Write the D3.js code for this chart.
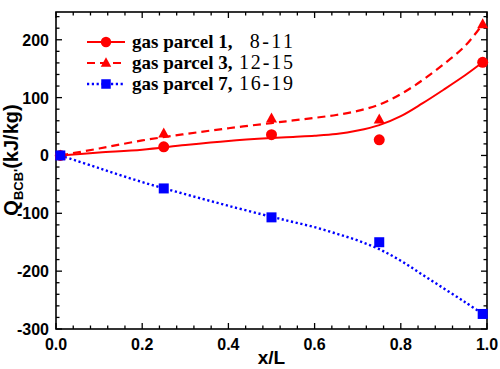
<!DOCTYPE html>
<html><head><meta charset="utf-8">
<script src="https://cdn.jsdelivr.net/npm/d3@7"></script>
<style>body{margin:0;background:#fff;} svg{display:block;}</style>
</head><body>
<svg id="c" width="500" height="369"></svg>
<script>
// ---- data ----
const xPoints = [0.01, 0.25, 0.5, 0.75, 0.99];
const parcel1 = [0, 15, 36, 27, 161];
const parcel3 = [0, 38, 64, 62, 227];
const parcel7 = [0, -57, -107, -150, -274];

const fitX  = [0.01, 0.1, 0.2, 0.3, 0.4, 0.5, 0.55, 0.6, 0.65, 0.7, 0.75, 0.8, 0.85, 0.9, 0.95, 0.99];
const fit1  = [0, 5, 10, 18, 25, 30, 32, 34, 37, 43, 52.5, 68, 90, 114, 139, 161];
const fit3  = [0, 12, 26, 37, 47, 56, 60.5, 65, 70, 77, 88, 106, 130, 158, 190, 227];
const fit7  = [0, -22, -46, -67, -87, -106, -115, -124, -135, -147, -162, -182, -206, -230, -254, -274];

const xTicks = [0.0, 0.2, 0.4, 0.6, 0.8, 1.0];
const yTicks = [-300, -200, -100, 0, 100, 200];
const legendNames = ["gas parcel 1,", "gas parcel 3,", "gas parcel 7,"];
const legendRanges = ["8-11", "12-15", "16-19"];

// ---- layout ----
const svg = d3.select("#c");
const L = 56, R = 487, T = 12, B = 329;
const x = d3.scaleLinear().domain([0, 1]).range([L, R]);
const y = d3.scaleLinear().domain([-300, 248]).range([B, T]);

const sans = "'Liberation Sans', Arial, sans-serif";
const serif = "'Liberation Serif', 'Times New Roman', serif";

// ticks (inward on all sides)
const minorX = d3.range(0, 1.0001, 0.04);
const minorY = d3.range(-300, 241, 20);
const tg = svg.append("g").attr("stroke", "#000").attr("stroke-width", 1.3);
minorX.forEach(v => {
  const major = xTicks.some(t => Math.abs(t - v) < 1e-6);
  const len = major ? 6 : 3.5;
  tg.append("line").attr("x1", x(v)).attr("x2", x(v)).attr("y1", B).attr("y2", B - len);
  tg.append("line").attr("x1", x(v)).attr("x2", x(v)).attr("y1", T).attr("y2", T + len);
});
minorY.forEach(v => {
  const major = yTicks.includes(Math.round(v));
  const len = major ? 6 : 3.5;
  tg.append("line").attr("y1", y(v)).attr("y2", y(v)).attr("x1", L).attr("x2", L + len);
  tg.append("line").attr("y1", y(v)).attr("y2", y(v)).attr("x1", R).attr("x2", R - len);
});

// frame
svg.append("rect").attr("x", L).attr("y", T).attr("width", R - L).attr("height", B - T)
  .attr("fill", "none").attr("stroke", "#000").attr("stroke-width", 1.6);

// tick labels
svg.append("g").selectAll("text").data(xTicks).join("text")
  .attr("x", d => x(d)).attr("y", 350).attr("text-anchor", "middle")
  .attr("font-family", sans).attr("font-weight", "bold").attr("font-size", 16)
  .text(d => d.toFixed(1));
svg.append("g").selectAll("text").data(yTicks).join("text")
  .attr("x", 49).attr("y", d => y(d) + 6).attr("text-anchor", "end")
  .attr("font-family", sans).attr("font-weight", "bold").attr("font-size", 16)
  .text(d => d);

// axis titles
svg.append("text").attr("x", (L + R) / 2).attr("y", 364).attr("text-anchor", "middle")
  .attr("font-family", sans).attr("font-weight", "bold").attr("font-size", 19).text("x/L");
const yl = svg.append("text").attr("transform", "translate(18,160) rotate(-90)")
  .attr("text-anchor", "middle").attr("font-family", sans).attr("font-weight", "bold").attr("font-size", 20);
yl.append("tspan").text("Q");
yl.append("tspan").attr("font-size", 13).attr("dy", 5).text("BCB'");
yl.append("tspan").attr("dy", -5).text("(kJ/kg)");

// curves
const line = d3.line().x(d => x(d[0])).y(d => y(d[1])).curve(d3.curveCatmullRom.alpha(0.5));
const series = [
  {fit: fit1, pts: parcel1, color: "#ff0000", dash: null, w: 2, marker: "circle"},
  {fit: fit3, pts: parcel3, color: "#ff0000", dash: "8,5", w: 2.2, marker: "triangle"},
  {fit: fit7, pts: parcel7, color: "#0000ff", dash: "2.2,2.6", w: 2.4, marker: "square"}
];
svg.append("clipPath").attr("id", "pc").append("rect")
  .attr("x", L).attr("y", T).attr("width", R - L).attr("height", B - T);

function drawMarker(g, type, cx, cy, color, s) {
  if (type === "circle") g.append("circle").attr("cx", cx).attr("cy", cy).attr("r", 5.5 * s).attr("fill", color);
  else if (type === "triangle") {
    const h = 10 * s, w = 11 * s;
    g.append("path").attr("d", `M${cx},${cy - h * 0.6}L${cx + w / 2},${cy + h * 0.4}L${cx - w / 2},${cy + h * 0.4}Z`).attr("fill", color);
  } else g.append("rect").attr("x", cx - 5 * s).attr("y", cy - 5 * s).attr("width", 10 * s).attr("height", 10 * s).attr("fill", color);
}

series.forEach(s => {
  svg.append("path").datum(fitX.map((v, i) => [v, s.fit[i]])).attr("d", line)
    .attr("fill", "none").attr("stroke", s.color).attr("stroke-width", s.w)
    .attr("stroke-dasharray", s.dash).attr("clip-path", "url(#pc)");
});
series.forEach(s => {
  const g = svg.append("g");
  xPoints.forEach((v, i) => drawMarker(g, s.marker, x(v), y(s.pts[i]), s.color, 1));
});

// legend
const rowsY = [42, 63, 84];
series.forEach((s, i) => {
  const g = svg.append("g");
  g.append("line").attr("x1", 87).attr("x2", 125).attr("y1", rowsY[i]).attr("y2", rowsY[i])
    .attr("stroke", s.color).attr("stroke-width", s.w).attr("stroke-dasharray", s.dash);
  drawMarker(g, s.marker, 106, rowsY[i], s.color, 0.95);
  g.append("text").attr("x", 132).attr("y", rowsY[i] + 6).attr("font-family", serif)
    .attr("font-weight", "bold").attr("font-size", 19).text(legendNames[i]);
  const len = legendRanges[i].length * 10.8;
  g.append("text").attr("x", 293 - len).attr("y", rowsY[i] + 6)
    .attr("font-family", serif).attr("font-size", 20)
    .attr("textLength", len).attr("lengthAdjust", "spacing").text(legendRanges[i]);
});
</script>
</body></html>
